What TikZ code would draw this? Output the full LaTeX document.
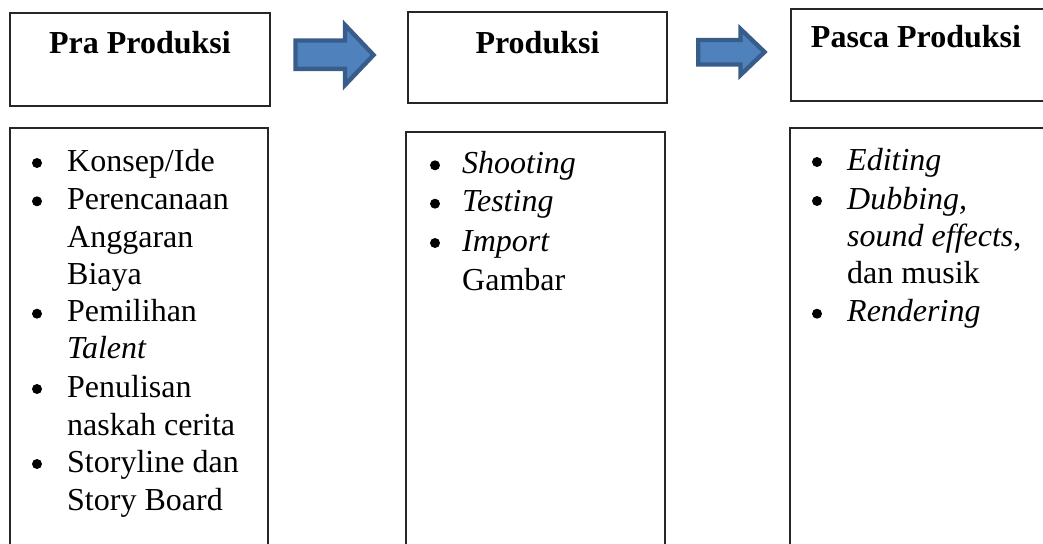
\documentclass[tikz,border=0pt]{standalone}
\usepackage{fontspec}
\setmainfont{Liberation Serif}
\definecolor{arrfill}{HTML}{4F81BD}
\definecolor{arrline}{HTML}{385D8A}
\tikzset{
  box/.style={draw=black!85, line width=1.3pt},
  blockarrow/.style={fill=arrfill, draw=arrline, line width=4.4pt, line join=miter},
  head/.style={anchor=base, inner sep=0pt, font=\fontsize{32}{38}\selectfont\bfseries},
  txt/.style={anchor=base west, inner sep=0pt, font=\fontsize{32}{38}\selectfont},
  bul/.style={circle, fill=black, inner sep=0pt, minimum size=10pt, yshift=8pt}
}
\begin{document}
\begin{tikzpicture}[x=1pt,y=-1pt]
\useasboundingbox (0,0) rectangle (1043,543);
\clip (0,0) rectangle (1043,543);
% header boxes
\draw[box] (10,13) rectangle (270,106);
\draw[box] (408,12) rectangle (667,103);
\draw[box] (791,9) rectangle (1060,101);
% list boxes
\draw[box] (10,128) rectangle (268,570);
\draw[box] (406,132) rectangle (665,570);
\draw[box] (790,128) rectangle (1060,570);
% block arrows
\draw[blockarrow] (295.5,40.5) -- (345,40.5) -- (345,25) -- (373.5,55) -- (345,85) -- (345,68.8) -- (295.5,68.8) -- cycle;
\draw[blockarrow] (698.2,40) -- (740.5,40) -- (740.5,29) -- (764.5,52) -- (740.5,75) -- (740.5,64.5) -- (698.2,64.5) -- cycle;
% headings
\node[head] (h1) at (140,53) {Pra Produksi};
\node[head] (h2) at (537.5,53) {Produksi};
\node[head] (h3) at (916,48) {Pasca Produksi};
% column 1
\node[bul] (b11) at (37,171) {};
\node[txt] (t11) at (67,171) {Konsep/Ide};
\node[bul] (b12) at (37,209.3) {};
\node[txt] (t12) at (67,209.3) {Perencanaan};
\node[txt] (t13) at (67,247.5) {Anggaran};
\node[txt] (t14) at (67,284) {Biaya};
\node[bul] (b15) at (37,321.7) {};
\node[txt] (t15) at (67,321.7) {Pemilihan};
\node[txt] (t16) at (67,358.5) {\itshape Talent};
\node[bul] (b17) at (37,397) {};
\node[txt] (t17) at (67,397) {Penulisan};
\node[txt] (t18) at (67,435) {naskah cerita};
\node[bul] (b19) at (37,472) {};
\node[txt] (t19) at (67,472) {Storyline dan};
\node[txt] (t110) at (67,510) {Story Board};
% column 2
\node[bul] (b21) at (435,173.3) {};
\node[txt] (t21) at (462,173.3) {\itshape Shooting};
\node[bul] (b22) at (435,211.7) {};
\node[txt] (t22) at (462,211.7) {\itshape Testing};
\node[bul] (b23) at (435,251) {};
\node[txt] (t23) at (462,251) {\itshape Import};
\node[txt] (t24) at (462,290) {Gambar};
% column 3
\node[bul] (b31) at (817,170) {};
\node[txt] (t31) at (847,170) {\itshape Editing};
\node[bul] (b32) at (817,209) {};
\node[txt] (t32) at (847,209) {\itshape Dubbing,};
\node[txt] (t33) at (847,246.7) {\itshape sound effects\upshape,};
\node[txt] (t34) at (847,283.5) {dan musik};
\node[bul] (b35) at (817,321.7) {};
\node[txt] (t35) at (847,321.7) {\itshape Rendering};
\end{tikzpicture}
\end{document}
